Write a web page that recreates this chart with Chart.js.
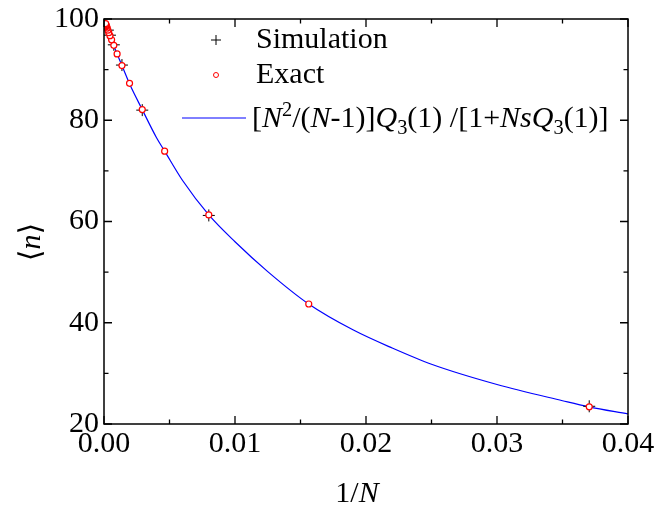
<!DOCTYPE html>
<html lang="en">
<head>
    <meta charset="UTF-8">
    <title>n vs 1/N</title>
    <script src="https://cdn.jsdelivr.net/npm/chart.js"></script>
    <style>
        body { margin: 0; background: #fff; }
        #wrap { width: 654px; height: 510px; }
    </style>
</head>
<body>
<div id="wrap"><canvas id="nChart"></canvas></div>
<script>
    // values
    const lineX = [0, 0.00025, 0.0005, 0.00075, 0.001, 0.00137, 0.002, 0.00292, 0.004, 0.00463, 0.006, 0.008, 0.01, 0.0125, 0.015625, 0.019, 0.022, 0.025, 0.03, 0.035, 0.037, 0.04];
    const lineY = [100, 98.1, 96.3, 94.7, 93.1, 90.8, 86.9, 82.1, 76.6, 73.9, 68.1, 61.3, 56.0, 50.1, 43.7, 38.6, 35.0, 31.8, 27.8, 24.6, 23.4, 22.0];

    const exactX = [0.03704, 0.01563, 0.008, 0.00463, 0.00292, 0.00195, 0.00137, 0.001, 0.00075, 0.00058, 0.000455, 0.000364, 0.000296, 0.000244, 0.000204, 0.000171, 0.000146, 0.000125];
    const exactY = [23.4, 43.7, 61.3, 73.9, 82.1, 87.3, 90.8, 93.1, 94.8, 95.9, 96.7, 97.3, 97.8, 98.2, 98.5, 98.7, 98.9, 99.1];

    const simX = [0.03704, 0.008, 0.00292, 0.00137, 0.00075, 0.000455, 0.000296];
    const simY = [23.5, 61.2, 82.0, 90.9, 94.9, 96.8, 97.8];

    const xMajor = [0, 0.01, 0.02, 0.03, 0.04];
    const xMinor = [0.005, 0.015, 0.025, 0.035];
    const yMajor = [20, 40, 60, 80, 100];
    const yMinor = [30, 50, 70, 90];

    const FONT = "'Liberation Serif', 'DejaVu Serif', serif";
    const FS = 30;

    function pts(xs, ys) {
        return xs.map((x, i) => ({ x: x, y: ys[i] }));
    }

    // draws text pieces: [text, italic, shift] shift: 0 normal, 1 sup, -1 sub
    function richText(ctx, parts, x, y, size) {
        parts.forEach(p => {
            const small = p[2] !== 0;
            const s = small ? size * 0.68 : size;
            ctx.font = (p[1] ? 'italic ' : '') + s + 'px ' + FONT;
            const dy = p[2] === 1 ? -size * 0.38 : (p[2] === -1 ? size * 0.22 : 0);
            ctx.fillText(p[0], x, y + dy);
            x += ctx.measureText(p[0]).width;
        });
        return x;
    }

    const framePlugin = {
        id: 'frame',
        afterDraw(chart) {
            const ctx = chart.ctx;
            const a = chart.chartArea;
            const xs = chart.scales.x, ys = chart.scales.y;
            ctx.save();
            ctx.strokeStyle = '#000';
            ctx.lineWidth = 1.5;
            ctx.strokeRect(a.left, a.top, a.right - a.left, a.bottom - a.top);

            // inward ticks on all four sides
            ctx.lineWidth = 1.3;
            ctx.beginPath();
            const tx = (v, len) => {
                const p = xs.getPixelForValue(v);
                ctx.moveTo(p, a.bottom); ctx.lineTo(p, a.bottom - len);
                ctx.moveTo(p, a.top); ctx.lineTo(p, a.top + len);
            };
            const ty = (v, len) => {
                const p = ys.getPixelForValue(v);
                ctx.moveTo(a.left, p); ctx.lineTo(a.left + len, p);
                ctx.moveTo(a.right, p); ctx.lineTo(a.right - len, p);
            };
            xMajor.forEach(v => tx(v, 8));
            xMinor.forEach(v => tx(v, 4.5));
            yMajor.forEach(v => ty(v, 8));
            yMinor.forEach(v => ty(v, 4.5));
            ctx.stroke();

            ctx.fillStyle = '#000';
            ctx.textBaseline = 'alphabetic';

            // x title 1/N
            ctx.font = FS + 'px ' + FONT;
            const w1 = ctx.measureText('1/').width;
            ctx.font = 'italic ' + FS + 'px ' + FONT;
            const w2 = ctx.measureText('N').width;
            richText(ctx, [['1/', false, 0], ['N', true, 0]], 357 - (w1 + w2) / 2, 502, FS);

            // y title <n>
            ctx.save();
            ctx.translate(40, 242);
            ctx.rotate(-Math.PI / 2);
            ctx.font = FS + 'px ' + FONT;
            const wl = ctx.measureText('\u27E8').width;
            ctx.font = 'italic ' + FS + 'px ' + FONT;
            const wn = ctx.measureText('n').width;
            richText(ctx, [['\u27E8', false, 0], ['n', true, 0], ['\u27E9', false, 0]], -(2 * wl + wn) / 2, 0, FS);
            ctx.restore();

            // legend
            const lx = 216;
            ctx.strokeStyle = '#000';
            ctx.lineWidth = 1;
            ctx.beginPath();
            ctx.moveTo(lx - 5, 40); ctx.lineTo(lx + 5, 40);
            ctx.moveTo(lx, 35); ctx.lineTo(lx, 45);
            ctx.stroke();
            ctx.strokeStyle = '#ff0000';
            ctx.beginPath();
            ctx.arc(lx, 75, 2.5, 0, Math.PI * 2);
            ctx.stroke();
            ctx.strokeStyle = '#0000ff';
            ctx.beginPath();
            ctx.moveTo(182, 118); ctx.lineTo(246, 118);
            ctx.stroke();

            ctx.font = FS + 'px ' + FONT;
            ctx.fillText('Simulation', 256, 48);
            ctx.fillText('Exact', 256, 83);
            richText(ctx, [
                ['[', false, 0], ['N', true, 0], ['2', false, 1], ['/(', false, 0], ['N', true, 0],
                ['-1)]', false, 0], ['Q', true, 0], ['3', false, -1], ['(1) /[1+', false, 0],
                ['NsQ', true, 0], ['3', false, -1], ['(1)]', false, 0]
            ], 252, 127, FS);
            ctx.restore();
        }
    };

    new Chart(document.getElementById('nChart'), {
        type: 'scatter',
        data: {
            datasets: [
                {
                    label: 'Exact',
                    data: pts(exactX, exactY),
                    pointStyle: 'circle',
                    pointRadius: 3,
                    borderColor: '#ff0000',
                    backgroundColor: '#ffffff',
                    borderWidth: 1.2,
                    order: 1
                },
                {
                    label: 'Simulation',
                    data: pts(simX, simY),
                    pointStyle: 'cross',
                    pointRadius: 6,
                    borderColor: '#000000',
                    borderWidth: 1,
                    order: 2
                },
                {
                    label: 'Theory',
                    type: 'line',
                    data: pts(lineX, lineY),
                    borderColor: '#0000ff',
                    borderWidth: 1.2,
                    pointRadius: 0,
                    cubicInterpolationMode: 'monotone',
                    fill: false,
                    order: 3
                }
            ]
        },
        options: {
            responsive: true,
            maintainAspectRatio: false,
            animation: false,
            layout: { padding: { top: 19, right: 26, left: 0, bottom: 0 } },
            plugins: { legend: { display: false }, tooltip: { enabled: false } },
            scales: {
                x: {
                    type: 'linear',
                    min: 0, max: 0.04,
                    grid: { display: false, drawTicks: false },
                    border: { display: false },
                    ticks: {
                        stepSize: 0.01,
                        padding: 2,
                        color: '#000',
                        maxRotation: 0,
                        font: { family: FONT, size: FS },
                        callback: v => v.toFixed(2)
                    },
                    afterFit(s) { s.height = 86; s.paddingLeft = 0; s.paddingRight = 0; }
                },
                y: {
                    min: 20, max: 100,
                    grid: { display: false, drawTicks: false },
                    border: { display: false },
                    ticks: {
                        stepSize: 20,
                        padding: 5,
                        color: '#000',
                        font: { family: FONT, size: FS }
                    },
                    afterFit(s) { s.width = 104; s.paddingTop = 0; s.paddingBottom = 0; }
                }
            }
        },
        plugins: [framePlugin]
    });
</script>
</body>
</html>
